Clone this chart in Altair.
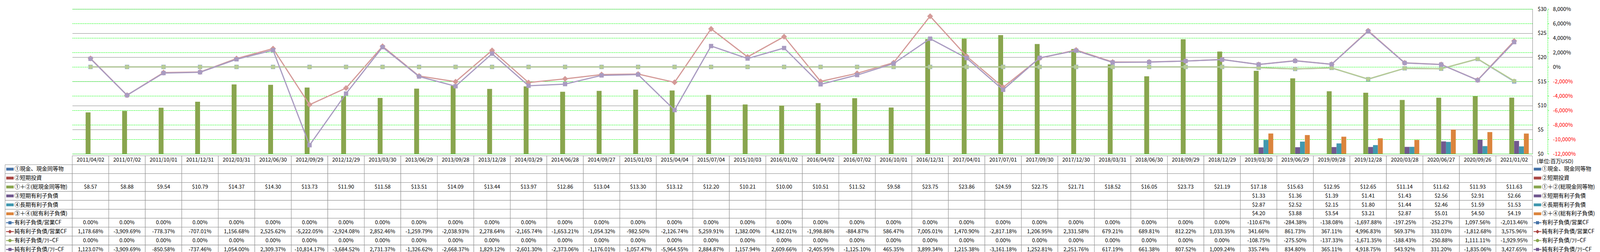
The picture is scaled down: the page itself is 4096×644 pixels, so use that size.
import altair as alt
import pandas as pd

FONT = "Noto Sans CJK JP"

dates = ["2011/04/02", "2011/07/02", "2011/10/01", "2011/12/31", "2012/03/31", "2012/06/30",
         "2012/09/29", "2012/12/29", "2013/03/30", "2013/06/29", "2013/09/28", "2013/12/28",
         "2014/03/29", "2014/06/28", "2014/09/27", "2015/01/03", "2015/04/04", "2015/07/04",
         "2015/10/03", "2016/01/02", "2016/04/02", "2016/07/02", "2016/10/01", "2016/12/31",
         "2017/04/01", "2017/07/01", "2017/09/30", "2017/12/30", "2018/03/31", "2018/06/30",
         "2018/09/29", "2018/12/29", "2019/03/30", "2019/06/29", "2019/09/28", "2019/12/28",
         "2020/03/28", "2020/06/27", "2020/09/26", "2021/01/02"]

N = None
cash_equiv = [N, N, N, N, N, N, N, N, N, N, N, N, N, N, N, N, N, N, N, N,
              N, N, N, N, N, N, N, N, N, N, N, N, N, N, N, N, N, N, N, N]
short_inv = [N, N, N, N, N, N, N, N, N, N, N, N, N, N, N, N, N, N, N, N,
             N, N, N, N, N, N, N, N, N, N, N, N, N, N, N, N, N, N, N, N]
total_cash = [8.57, 8.88, 9.54, 10.79, 14.37, 14.30, 13.73, 11.90, 11.58, 13.51,
              14.09, 13.44, 13.97, 12.86, 13.04, 13.30, 13.12, 12.20, 10.21, 10.00,
              10.51, 11.52, 9.58, 23.75, 23.86, 24.59, 22.75, 21.71, 18.52, 16.05,
              23.73, 21.19, 17.18, 15.63, 12.95, 12.65, 11.14, 11.62, 11.93, 11.63]
short_debt = [N, N, N, N, N, N, N, N, N, N, N, N, N, N, N, N, N, N, N, N,
              N, N, N, N, N, N, N, N, N, N, N, N, 1.33, 1.36, 1.39, 1.41, 1.43, 2.56, 2.91, 2.66]
long_debt = [N, N, N, N, N, N, N, N, N, N, N, N, N, N, N, N, N, N, N, N,
             N, N, N, N, N, N, N, N, N, N, N, N, 2.87, 2.52, 2.15, 1.80, 1.44, 2.46, 1.59, 1.53]
total_debt = [N, N, N, N, N, N, N, N, N, N, N, N, N, N, N, N, N, N, N, N,
              N, N, N, N, N, N, N, N, N, N, N, N, 4.20, 3.88, 3.54, 3.21, 2.87, 5.01, 4.50, 4.19]

debt_opcf = [0, 0, 0, 0, 0, 0, 0, 0, 0, 0, 0, 0, 0, 0, 0, 0, 0, 0, 0, 0,
             0, 0, 0, 0, 0, 0, 0, 0, 0, 0, 0, 0,
             -110.67, -284.38, -138.08, -1697.88, -197.25, -252.27, 1097.56, -2013.46]
netdebt_opcf = [1178.68, -3909.69, -778.37, -707.01, 1156.68, 2525.62, -5222.05, -2924.08,
                2852.46, -1259.79, -2038.93, 2278.64, -2165.74, -1653.21, -1054.32, -982.50,
                -2126.74, 5259.91, 1382.00, 4182.01, -1998.86, -884.87, 586.47, 7005.01,
                1470.90, -2817.18, 1206.95, 2331.58, 679.21, 689.81, 812.22, 1033.35,
                341.66, 861.73, 367.11, 4996.83, 569.37, 333.03, -1812.68, 3575.96]
debt_fcf = [0, 0, 0, 0, 0, 0, 0, 0, 0, 0, 0, 0, 0, 0, 0, 0, 0, 0, 0, 0,
            0, 0, 0, 0, 0, 0, 0, 0, 0, 0, 0, 0,
            -108.75, -275.50, -137.33, -1671.35, -188.43, -250.88, 1111.11, -1929.95]
netdebt_fcf = [1123.07, -3909.69, -850.58, -737.46, 1054.00, 2309.37, -10814.17, -3684.52,
               2731.37, -1326.62, -2668.37, 1829.12, -2601.30, -2373.06, -1176.01, -1057.47,
               -5964.55, 2884.87, 1157.94, 2609.66, -2405.95, -1125.10, 465.35, 3899.34,
               1215.38, -3161.18, 1252.81, 2251.76, 617.19, 661.38, 807.52, 1009.24,
               335.74, 834.80, 365.11, 4918.75, 543.92, 331.20, -1835.06, 3427.65]

bar_keys = ["①現金、現金同等物", "②短期投資", "①＋②(総現金同等物)",
            "③短期有利子負債", "④長期有利子負債", "③＋④(総有利子負債)"]
line_keys = ["有利子負債/営業CF", "純有利子負債/営業CF", "有利子負債/ﾌﾘｰCF", "純有利子負債/ﾌﾘｰCF"]
row_keys = bar_keys + line_keys
unit_label = "(単位:百万USD)"

bar_colors = ["#4572A7", "#AA4643", "#89A54E", "#71588F", "#4198AF", "#DB843D"]
line_colors = ["#95AACF", "#D49A98", "#B7CC94", "#A99BC1"]
line_marks = ["square", "diamond", "circle", "square"]
line_mark_sizes = [121, 225, 121, 121]

bar_sym = "M-0.95,-0.36H0.95V0.36H-0.95Z"
lbase = "M-1,-0.11H1V0.11H-1Z"
sym_paths = [bar_sym] * 6 + [
    lbase + "M-0.4,-0.4H0.4V0.4H-0.4Z",
    lbase + "M0,-0.5L0.5,0L0,0.5L-0.5,0Z",
    lbase + "M0.42,0A0.42,0.42,0,1,1,-0.42,0A0.42,0.42,0,1,1,0.42,0Z",
    lbase + "M-0.4,-0.4H0.4V0.4H-0.4Z",
]

bar_series = [cash_equiv, short_inv, total_cash, short_debt, long_debt, total_debt]
line_series = [debt_opcf, netdebt_opcf, debt_fcf, netdebt_fcf]

W = 3738
PH = 370
TH = 251
LW = 172
RW = 160
GRID = "#8C8C8C"

# ---------- plot ----------
bar_recs = []
for k, arr in zip(bar_keys, bar_series):
    for d, v in zip(dates, arr):
        if v is not None:
            bar_recs.append({"date": d, "key": k, "v": v})
bar_df = pd.DataFrame(bar_recs)

xsc = alt.Scale(domain=dates, paddingInner=0.2, paddingOuter=0.1)
xenc = alt.X("date:N", scale=xsc, axis=None)

usd_axis = alt.Axis(orient="right", values=[0, 5, 10, 15, 20, 25, 30],
                    labelExpr="'$' + datum.value", grid=True, gridColor="#868686",
                    gridWidth=1, domain=True, domainColor="#868686", ticks=False,
                    labelPadding=13, labelFont=FONT, labelFontSize=13.5,
                    labelColor="#000000", title=None)
pct_axis = alt.Axis(orient="right", offset=39,
                    values=[-12000, -10000, -8000, -6000, -4000, -2000, 0, 2000, 4000, 6000, 8000],
                    labelExpr="(datum.value < 0 ? '-' : '') + format(abs(datum.value), ',') + '%'",
                    grid=True, gridColor="#00FF00", gridDash=[3, 1.5], gridWidth=1,
                    domain=True, domainColor="#00FF00", domainDash=[3, 1.5],
                    ticks=True, tickColor="#00FF00", tickSize=3, labelPadding=10,
                    labelFont=FONT, labelFontSize=13.5,
                    labelColor={"condition": {"test": "datum.value < 0", "value": "#FF0000"},
                                "value": "#000000"},
                    title=None)
pct_scale = alt.Scale(domain=[-12000, 8000], nice=False, zero=False)

bars = alt.Chart(bar_df).mark_bar().encode(
    x=xenc,
    xOffset=alt.XOffset("key:N", scale=alt.Scale(domain=bar_keys, paddingInner=0, paddingOuter=0)),
    y=alt.Y("v:Q", scale=alt.Scale(domain=[0, 30], nice=False), axis=usd_axis),
    color=alt.Color("key:N", scale=alt.Scale(domain=bar_keys, range=bar_colors), legend=None),
)

line_layers = []
for k, arr, col, shp, sz in zip(line_keys, line_series, line_colors, line_marks, line_mark_sizes):
    ldf = pd.DataFrame({"date": dates, "v": arr})
    line_layers.append(
        alt.Chart(ldf).mark_line(
            color=col, strokeWidth=3,
            point=alt.OverlayMarkDef(shape=shp, size=sz, filled=True, color=col, opacity=1),
        ).encode(x=xenc, y=alt.Y("v:Q", scale=pct_scale, axis=pct_axis))
    )
lines = alt.layer(*line_layers)

plot = alt.layer(bars, lines).resolve_scale(y="independent").properties(width=W, height=PH)

# ---------- data table ----------
ykeys = ["hdr"] + row_keys
ysc = alt.Scale(domain=ykeys, paddingInner=0, paddingOuter=0)
yenc = alt.Y("key:N", scale=ysc, axis=None)

tab_recs = []
for d in dates:
    tab_recs.append({"date": d, "key": "hdr", "t": d})
for k, arr in zip(bar_keys, bar_series):
    for d, v in zip(dates, arr):
        tab_recs.append({"date": d, "key": k, "t": "" if v is None else f"${v:.2f}"})
for k, arr in zip(line_keys, line_series):
    for d, v in zip(dates, arr):
        tab_recs.append({"date": d, "key": k, "t": f"{v:,.2f}%"})
tab_df = pd.DataFrame(tab_recs)

txsc = alt.Scale(domain=dates, paddingInner=0, paddingOuter=0)
txenc = alt.X("date:N", scale=txsc, axis=None)
cells = alt.Chart(tab_df).mark_rect(fill="white", stroke=GRID, strokeWidth=1).encode(x=txenc, y=yenc)
ctext = alt.Chart(tab_df).mark_text(font=FONT, fontSize=13.5, color="#000000").encode(
    x=txenc, y=yenc, text="t:N")
table = alt.layer(cells, ctext).properties(width=W, height=TH)

# ---------- legend columns ----------
leg_df = pd.DataFrame({"key": row_keys})
col_enc = alt.Color("key:N", scale=alt.Scale(domain=row_keys, range=bar_colors + line_colors), legend=None)
shp_enc = alt.Shape("key:N", scale=alt.Scale(domain=row_keys, range=sym_paths), legend=None)

left_cells = alt.Chart(leg_df).mark_rect(fill="white", stroke=GRID, strokeWidth=1).encode(y=yenc)
left_sw = alt.Chart(leg_df).mark_point(filled=True, opacity=1, size=400).encode(
    x=alt.value(12.5), y=yenc, color=col_enc, shape=shp_enc)
left_tx = alt.Chart(leg_df).mark_text(align="left", font=FONT, fontSize=14, color="#000000").encode(
    x=alt.value(24), y=yenc, text="key:N")
left = alt.layer(left_cells, left_sw, left_tx).properties(width=LW, height=TH)

unit_df = pd.DataFrame({"key": ["hdr"], "t": [unit_label]})
right_sw = alt.Chart(leg_df).mark_point(filled=True, opacity=1, size=400).encode(
    x=alt.value(13), y=yenc, color=col_enc, shape=shp_enc)
right_tx = alt.Chart(leg_df).mark_text(align="left", font=FONT, fontSize=14, color="#000000").encode(
    x=alt.value(24.5), y=yenc, text="key:N")
right_unit = alt.Chart(unit_df).mark_text(align="left", font=FONT, fontSize=13.5, color="#000000", dy=4).encode(
    x=alt.value(11), y=yenc, text="t:N")
right = alt.layer(right_sw, right_tx, right_unit).properties(width=RW, height=TH)

blank_df = pd.DataFrame({"t": [""]})
blank_l = alt.Chart(blank_df).mark_text().encode(text="t:N").properties(width=LW, height=PH)
blank_r = alt.Chart(blank_df).mark_text().encode(text="t:N").properties(width=RW, height=PH)

chart = alt.concat(
    blank_l, plot, blank_r, left, table, right,
    columns=3, spacing={"row": 5, "column": 0}, bounds="flush",
).properties(
    padding={"left": 4, "top": 7, "right": 0, "bottom": 0}
).configure(background="white").configure_view(stroke="transparent")

chart.save("out.html", embed_options={"renderer": "svg", "actions": False})
